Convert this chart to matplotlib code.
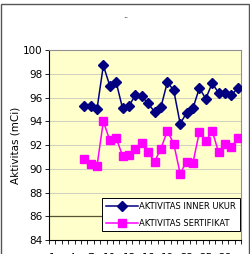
import matplotlib
matplotlib.use("Agg")
import matplotlib.pyplot as plt
from matplotlib.patches import Rectangle

# data (categories 1..30, values start at 6)
categories = list(range(1, 31))
start = 6
inner_ukur = [95.3, 95.3, 95.0, 98.7, 97.0, 97.3, 95.1, 95.3, 96.2, 96.1,
              95.5, 94.8, 95.2, 97.3, 96.6, 93.8, 94.7, 95.1, 96.8, 95.9,
              97.2, 96.4, 96.4, 96.2, 96.8]
sertifikat = [90.8, 90.4, 90.2, 94.0, 92.4, 92.6, 91.1, 91.2, 91.7, 92.2,
              91.4, 90.6, 91.7, 93.2, 92.1, 89.6, 90.6, 90.5, 93.1, 92.3,
              93.2, 91.4, 92.1, 91.8, 92.6]
x_labels = [1, 4, 7, 10, 13, 16, 19, 22, 25, 28]
y_ticks = list(range(84, 101, 2))

xs = categories[start - 1:start - 1 + len(inner_ukur)]

fig = plt.figure(figsize=(2.51, 2.54), dpi=100)
fig.patch.set_facecolor("white")
ax = fig.add_axes([0.195, 0.055, 0.765, 0.748])
ax.set_facecolor("#FFFFCC")

for y in y_ticks[1:-1]:
    if y == 86:
        ax.axhline(y, color="#555533", lw=0.9, zorder=1)
    else:
        ax.axhline(y, color="#D0D0C0", lw=0.7, zorder=1)

ax.plot(xs, inner_ukur, color="#000080", marker="D", ms=4.6, lw=1.1,
        label="AKTIVITAS INNER UKUR", zorder=3)
ax.plot(xs, sertifikat, color="#FF00FF", marker="s", ms=5.5, lw=1.1,
        label="AKTIVITAS SERTIFIKAT", zorder=3)

ax.set_xlim(0.5, 30.5)
ax.set_ylim(84, 100)
ax.set_yticks(y_ticks)
ax.set_xticks(x_labels)
ax.set_xticklabels([str(v) for v in x_labels])
ax.set_xticks([c - 0.5 for c in categories] + [30.5], minor=True)
ax.tick_params(axis="x", which="major", length=0, pad=9, labelsize=7.5)
ax.tick_params(axis="x", which="minor", length=3, width=0.6, direction="out")
ax.tick_params(axis="y", length=3, width=0.6, direction="out", labelsize=7.5, pad=1.5)

for side in ["top", "right"]:
    ax.spines[side].set_color("#909090")
    ax.spines[side].set_linewidth(0.8)
for side in ["left", "bottom"]:
    ax.spines[side].set_color("black")
    ax.spines[side].set_linewidth(0.8)

ax.set_ylabel("Aktivitas (mCi)", fontsize=7.5, labelpad=2)

leg = ax.legend(loc="lower right", bbox_to_anchor=(0.995, 0.045), fontsize=6.0,
                frameon=True, fancybox=False, edgecolor="black",
                facecolor="white", framealpha=1, handlelength=3.8,
                borderpad=0.45, labelspacing=0.95, handletextpad=0.2,
                borderaxespad=0)
leg.get_frame().set_linewidth(0.7)
leg.set_zorder(5)

fig.text(0.5, 0.915, "\u00a8", ha="center", va="center", fontsize=6)

fig.add_artist(Rectangle((0.004, -0.01), 0.99, 0.995, transform=fig.transFigure,
                         fill=False, ec="#555555", lw=1))

fig.savefig("out.png", dpi=100)
